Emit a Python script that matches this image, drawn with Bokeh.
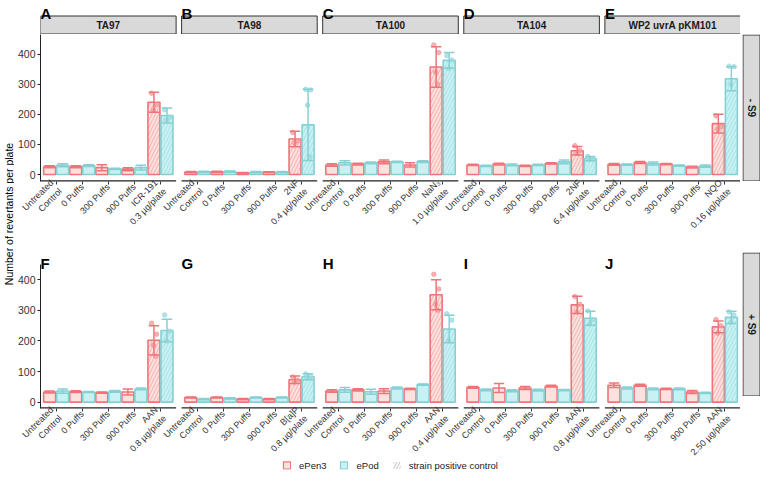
import math
from bokeh.plotting import figure
from bokeh.models import ColumnDataSource, Range1d, FixedTicker, Legend, LegendItem
from bokeh.layouts import row, column
from bokeh.embed import file_html
from bokeh.resources import INLINE
from bokeh.core.properties import value

# ---------------- data ----------------
treatments = ["Untreated\nControl", "0 Puffs", "300 Puffs", "900 Puffs"]
strains = ["TA97", "TA98", "TA100", "TA104", "WP2 uvrA pKM101"]
letters_minus = ["A", "B", "C", "D", "E"]
letters_plus = ["F", "G", "H", "I", "J"]
pos_minus = ["ICR-191\n0.3 µg/plate", "2NF\n0.4 µg/plate", "NaN₃\n1.0 µg/plate",
             "2NF\n6.4 µg/plate", "NQO\n0.16 µg/plate"]
pos_plus = ["AAN\n0.8 µg/plate", "B[a]P\n0.8 µg/plate", "AAN\n0.4 µg/plate",
            "AAN\n0.8 µg/plate", "AAN\n2.50 µg/plate"]
y_ticks = [0, 100, 200, 300, 400]
row_labels = ["- S9", "+ S9"]
legend_labels = ["ePen3", "ePod", "strain positive control"]

# - S9 (mean / sd per strain: Untreated, 0, 300, 900 puffs, positive control)
pen_mean_minus = [[26, 26, 23, 18, 240], [8, 9, 6, 8, 118], [32, 35, 42, 32, 357],
                  [32, 35, 29, 37, 79], [34, 40, 35, 25, 169]]
pen_sd_minus = [[3, 3, 10, 5, 33], [2, 2, 1, 1, 26], [4, 3, 6, 7, 67],
                [2, 3, 2, 2, 14], [3, 3, 2, 3, 31]]
pod_mean_minus = [[31, 30, 19, 23, 196], [9, 10, 8, 8, 165], [39, 39, 42, 43, 379],
                  [29, 32, 32, 42, 53], [33, 37, 30, 28, 318]]
pod_sd_minus = [[5, 3, 2, 8, 25], [2, 2, 2, 2, 118], [7, 3, 2, 3, 26],
                [2, 3, 2, 6, 7], [2, 5, 2, 4, 40]]
pen_pts_minus = [[270, 232, 214], [140, 112, 105], [430, 405, 340, 300],
                 [96, 80, 70], [195, 160, 150]]
pod_pts_minus = [[215, 190, 180], [283, 281, 230, 60], [395, 380, 352],
                 [60, 52, 50], [360, 358, 300]]

# + S9
pen_mean_plus = [[33, 34, 31, 33, 202], [15, 15, 10, 10, 73], [36, 40, 36, 43, 351],
                 [48, 46, 46, 52, 318], [55, 55, 43, 33, 246]]
pen_sd_plus = [[3, 3, 2, 10, 48], [2, 2, 2, 2, 12], [4, 4, 8, 2, 49],
               [3, 15, 5, 3, 28], [7, 3, 2, 5, 19]]
pod_mean_plus = [[36, 33, 35, 43, 234], [10, 12, 15, 15, 83], [40, 34, 46, 57, 239],
                 [40, 37, 39, 39, 274], [46, 43, 43, 30, 277]]
pod_sd_plus = [[7, 2, 3, 3, 37], [2, 2, 2, 2, 10], [8, 8, 3, 2, 45],
               [3, 3, 3, 2, 23], [3, 3, 3, 2, 20]]
pen_pts_plus = [[258, 222, 186, 150], [82, 72, 65], [418, 370, 320, 300],
                [345, 320, 295], [270, 250, 225]]
pod_pts_plus = [[285, 232, 200], [92, 84, 78], [289, 268, 200],
                [298, 270, 255], [295, 285, 260]]

# ---------------- style / layout ----------------
FONT = "Liberation Sans"
RED_LINE, RED_FILL, RED_PT = "#EE7479", "#F8766D", "#F29A9A"
BLUE_LINE, BLUE_FILL, BLUE_PT = "#86D0D4", "#00BFC4", "#9BD9DC"
STRIP_FILL, STRIP_LINE = "#D9D9D9", "#333333"
JIT = [-0.09, 0.1, -0.02, 0.06]
BW, OFF, CAP = 0.46, 0.25, 0.2
PAD, GAP = 0.6, 0.21
N_CAT = 5
PANEL_SPAN = (N_CAT - 1) + 2 * PAD
X_END = 5 * PANEL_SPAN + 4 * GAP
LEFT_B, FRAME_W, STRIP_W, TITLE_W = 26, 700, 20, 14
TOP_FRAME, BOT_FRAME, LETTER_BAND = 147, 144, 12
HDR_TOP, LEG_H = 34, 14
LAB_TOP, LAB_BOT = 56, 62


def panel_left(i):
    return i * (PANEL_SPAN + GAP)


def cat_x(i, j):
    return round(panel_left(i) + PAD + j, 4)


def style_axes(p, pos_labels, yr):
    xa = p.xaxis[0]
    ticks = [cat_x(i, j) for i in range(5) for j in range(N_CAT)]
    labels = [(treatments + [pos_labels[i]])[j] for i in range(5) for j in range(N_CAT)]
    xa.ticker = FixedTicker(ticks=ticks)
    xa.major_label_overrides = {t: l for t, l in zip(ticks, labels)}
    xa.minor_tick_line_color = None
    xa.axis_line_color = None
    xa.major_label_orientation = math.pi / 4
    xa.major_label_text_font = FONT
    xa.major_label_text_font_size = "9px"
    xa.major_label_text_color = "#333333"
    xa.major_tick_line_color = "#333333"
    xa.major_tick_in = 0
    xa.major_tick_out = 3
    xa.major_label_standoff = 1
    ya = p.yaxis[0]
    ya.ticker = FixedTicker(ticks=y_ticks)
    ya.bounds = yr
    ya.minor_tick_line_color = None
    ya.major_label_text_font = FONT
    ya.major_label_text_font_size = "10.5px"
    ya.major_label_text_color = "#333333"
    ya.axis_line_color = "#222222"
    ya.major_tick_line_color = "#222222"
    ya.major_tick_in = 0
    ya.major_tick_out = 3
    ya.major_label_standoff = 2


def make_main(letters, pos_labels, pen_m, pen_s, pod_m, pod_s, pen_p, pod_p, yr, frame_h, band, lab_b):
    upp = (yr[1] - yr[0]) / frame_h
    y_end = yr[1] + band * upp
    p = figure(x_range=Range1d(0, X_END), y_range=Range1d(yr[0], y_end), frame_width=FRAME_W,
               frame_height=frame_h + band, min_border_left=LEFT_B, min_border_right=0, min_border_top=0,
               min_border_bottom=lab_b, output_backend="svg", toolbar_location=None)
    p.outline_line_color = None
    p.grid.visible = False
    style_axes(p, pos_labels, yr)

    bl = ColumnDataSource(dict(x0=[panel_left(i) for i in range(5)],
                               x1=[panel_left(i) + PANEL_SPAN for i in range(5)],
                               y=[yr[0]] * 5))
    p.segment(x0="x0", x1="x1", y0="y", y1="y", source=bl, line_color="#222222", line_width=2.4)

    for means, sds, pts, off, lc, fc, pc in [(pen_m, pen_s, pen_p, -OFF, RED_LINE, RED_FILL, RED_PT),
                                              (pod_m, pod_s, pod_p, OFF, BLUE_LINE, BLUE_FILL, BLUE_PT)]:
        xs, tops, lo, hi, hatch = [], [], [], [], []
        for i in range(5):
            for j in range(N_CAT):
                xs.append(cat_x(i, j) + off)
                tops.append(means[i][j])
                lo.append(means[i][j] - sds[i][j])
                hi.append(means[i][j] + sds[i][j])
                hatch.append("/" if j == N_CAT - 1 else " ")
        src = ColumnDataSource(dict(x=xs, x_l=[x - CAP for x in xs], x_r=[x + CAP for x in xs],
                                    top=tops, lo=lo, hi=hi, hatch=hatch))
        p.vbar(x="x", top="top", width=BW, source=src,
               fill_color=fc, fill_alpha=0.22, line_color=lc, line_width=1.6,
               hatch_pattern="hatch", hatch_color=lc, hatch_alpha=0.6, hatch_scale=7, hatch_weight=0.8)
        px, py = [], []
        for i in range(5):
            for k, v in enumerate(pts[i]):
                px.append(cat_x(i, N_CAT - 1) + off + JIT[k % len(JIT)])
                py.append(v)
        p.scatter(x=px, y=py, size=4.5, fill_color=pc, line_color=pc, alpha=0.75)
        p.segment(x0="x", x1="x", y0="lo", y1="hi", source=src, line_color=lc, line_width=1.5)
        for end in ["lo", "hi"]:
            p.segment(x0="x_l", x1="x_r", y0=end, y1=end, source=src, line_color=lc, line_width=1.5)

    if band > 0:
        t = ColumnDataSource(dict(x=[panel_left(i) for i in range(5)], letter=letters))
        p.text(x="x", y=yr[1] + 1.5 * upp, text="letter", source=t, text_font=value(FONT),
               text_font_style="bold", text_font_size="15px", text_align="left",
               text_baseline="alphabetic", text_color="black")
    return p


def make_header(letters, height):
    h = figure(x_range=Range1d(0, X_END), y_range=Range1d(0, height), frame_width=FRAME_W, frame_height=height,
               min_border_left=LEFT_B, min_border_right=0, min_border_top=0, min_border_bottom=0,
               x_axis_location=None, y_axis_location=None, output_backend="svg", toolbar_location=None)
    h.outline_line_color = None
    h.grid.visible = False
    s = ColumnDataSource(dict(l=[panel_left(i) for i in range(5)],
                              r=[panel_left(i) + PANEL_SPAN for i in range(5)],
                              xc=[panel_left(i) + PANEL_SPAN / 2 for i in range(5)],
                              name=strains, letter=letters))
    h.quad(left="l", right="r", bottom=0.5, top=18.5, source=s,
           fill_color=STRIP_FILL, line_color=STRIP_LINE, line_width=1)
    h.text(x="xc", y=9.5, text="name", source=s, text_font=value(FONT), text_font_style="bold",
           text_font_size="10px", text_align="center", text_baseline="middle", text_color="#1A1A1A")
    h.text(x="l", y=21, text="letter", source=s, text_font=value(FONT), text_font_style="bold",
           text_font_size="15px", text_align="left", text_baseline="alphabetic", text_color="black")
    return h


def make_side_strip(label, frame_h, top_b):
    s = figure(x_range=Range1d(0, STRIP_W - 2), y_range=Range1d(0, frame_h), frame_width=STRIP_W - 2,
               frame_height=frame_h, min_border_left=2, min_border_right=0, min_border_top=top_b,
               min_border_bottom=0, x_axis_location=None, y_axis_location=None,
               output_backend="svg", toolbar_location=None)
    s.outline_line_color = None
    s.grid.visible = False
    s.quad(left=0.5, right=STRIP_W - 2.5, bottom=0.5, top=frame_h - 0.5,
           fill_color=STRIP_FILL, line_color=STRIP_LINE, line_width=1)
    s.text(x=[(STRIP_W - 2) / 2], y=[frame_h / 2], text=[label], angle=-math.pi / 2,
           text_font=value(FONT), text_font_style="bold", text_font_size="10px",
           text_align="center", text_baseline="middle", text_color="#1A1A1A")
    return s


p_top = make_main(letters_minus, pos_minus, pen_mean_minus, pen_sd_minus, pod_mean_minus, pod_sd_minus,
                  pen_pts_minus, pod_pts_minus, (-23, 465), TOP_FRAME, 0, LAB_TOP)
p_bot = make_main(letters_plus, pos_plus, pen_mean_plus, pen_sd_plus, pod_mean_plus, pod_sd_plus,
                  pen_pts_plus, pod_pts_plus, (-21, 450), BOT_FRAME, LETTER_BAND, LAB_BOT)
h_top = make_header(letters_minus, HDR_TOP)
s_top = make_side_strip(row_labels[0], TOP_FRAME, 0)
s_bot = make_side_strip(row_labels[1], BOT_FRAME, LETTER_BAND)

# legend: hidden proxy renderers carry the legend glyph styles
lf = figure(x_range=Range1d(0, 1), y_range=Range1d(0, 1), frame_width=FRAME_W, frame_height=LEG_H,
            min_border_left=LEFT_B, min_border_right=0, min_border_top=0, min_border_bottom=0,
            x_axis_location=None, y_axis_location=None, output_backend="svg", toolbar_location=None)
lf.outline_line_color = None
lf.grid.visible = False
r1 = lf.vbar(x=[0.5], top=[1], width=0.5, fill_color=RED_FILL, fill_alpha=0.22, line_color=RED_LINE, line_width=1.2)
r2 = lf.vbar(x=[0.5], top=[1], width=0.5, fill_color=BLUE_FILL, fill_alpha=0.22, line_color=BLUE_LINE, line_width=1.2)
r3 = lf.vbar(x=[0.5], top=[1], width=0.5, fill_color=None, line_color=None,
             hatch_pattern="/", hatch_color="#BBBBBB", hatch_scale=6, hatch_weight=1)
for r in (r1, r2, r3):
    r.visible = False
leg = Legend(items=[LegendItem(label=legend_labels[0], renderers=[r1]),
                    LegendItem(label=legend_labels[1], renderers=[r2]),
                    LegendItem(label=legend_labels[2], renderers=[r3])],
             orientation="horizontal", location="center", border_line_color=None, background_fill_alpha=0,
             label_text_font=FONT, label_text_font_size="9.5px", label_text_color="#222222",
             glyph_width=9, glyph_height=9, spacing=13, padding=0, margin=0, label_standoff=8,
             label_height=10, inactive_fill_alpha=0)
lf.add_layout(leg, "center")

TOTAL_H = HDR_TOP + TOP_FRAME + LAB_TOP + LETTER_BAND + BOT_FRAME + LAB_BOT + LEG_H
yt = figure(x_range=Range1d(0, TITLE_W), y_range=Range1d(0, TOTAL_H), width=TITLE_W, height=TOTAL_H,
            min_border=0, x_axis_location=None, y_axis_location=None, output_backend="svg", toolbar_location=None)
yt.outline_line_color = None
yt.grid.visible = False
center_from_top = (HDR_TOP + HDR_TOP + TOP_FRAME + LAB_TOP + LETTER_BAND + BOT_FRAME) / 2
yt.text(x=[TITLE_W / 2 + 1], y=[TOTAL_H - center_from_top], text=["Number of revertants per plate"],
        angle=math.pi / 2, text_font=value(FONT), text_font_size="10.5px", text_align="center",
        text_baseline="middle", text_color="black")

layout = row(yt, column(h_top, row(p_top, s_top), row(p_bot, s_bot), lf))
open("out.html", "w").write(file_html(layout, INLINE))
